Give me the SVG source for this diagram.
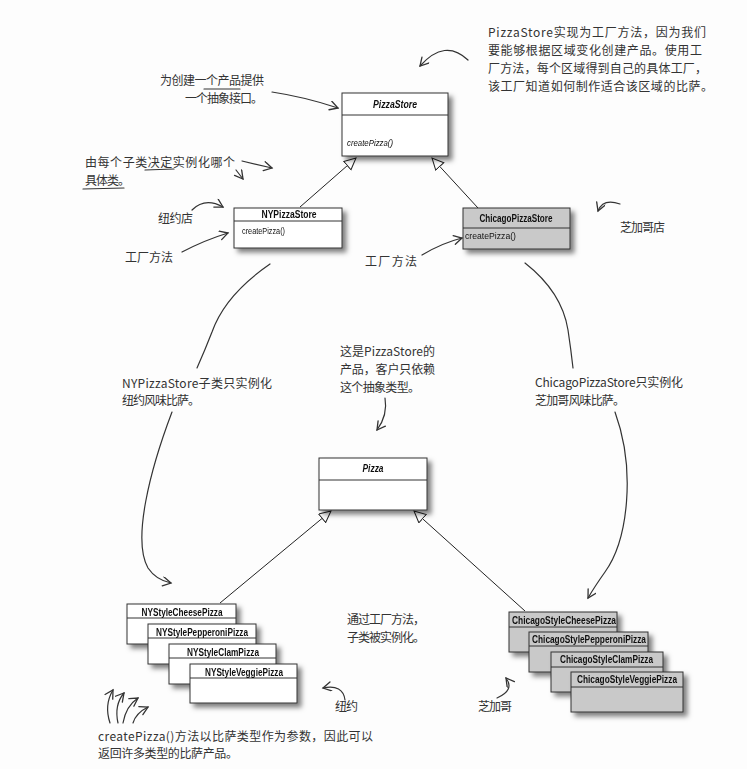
<svg xmlns="http://www.w3.org/2000/svg" width="747" height="769" viewBox="0 0 747 769">
<defs>
<filter id="sh" x="-10%" y="-10%" width="130%" height="150%">
<feDropShadow dx="4" dy="4" stdDeviation="2.5" flood-color="#000" flood-opacity="0.5"/>
</filter>
<marker id="tri" markerWidth="14" markerHeight="14" refX="12" refY="6" orient="auto" markerUnits="userSpaceOnUse">
<path d="M0.5,0.5 L12,6 L0.5,11.5 Z" fill="#fff" stroke="#222" stroke-width="1"/>
</marker>
<marker id="ah" markerWidth="12" markerHeight="12" refX="9" refY="5" orient="auto" markerUnits="userSpaceOnUse">
<path d="M1,0.5 L9,5 L1,9.5" fill="none" stroke="#333" stroke-width="1.3" stroke-linecap="round"/>
</marker>
</defs>
<style>
.box{fill:#fff;stroke:#333;stroke-width:1}
.gbox{fill:#c9c9c9;stroke:#333;stroke-width:1}
.dv{stroke:#333;stroke-width:1}
.t{font-family:"Liberation Sans",Arial,sans-serif;font-size:10px;font-weight:bold;fill:#111}
.ti{font-family:"Liberation Sans",Arial,sans-serif;font-size:10px;font-weight:bold;font-style:italic;fill:#111}
.m{font-family:"Liberation Sans",Arial,sans-serif;font-size:9px;fill:#111}
.mi{font-family:"Liberation Sans",Arial,sans-serif;font-size:9px;font-style:italic;fill:#111}
.n{font-family:"Noto Sans CJK SC","Noto Sans",sans-serif;font-size:12px;fill:#333}
.c{fill:none;stroke:#222;stroke-width:1}
.h{fill:none;stroke:#333;stroke-width:1.2;stroke-linecap:round}
</style>
<rect width="747" height="769" fill="#fdfdfd"/>

<g id="connectors">
<line class="c" x1="300" y1="207" x2="356" y2="158" marker-end="url(#tri)"/>
<line class="c" x1="478" y1="208" x2="432" y2="158" marker-end="url(#tri)"/>
<line class="c" x1="220" y1="603" x2="331" y2="511" marker-end="url(#tri)"/>
<line class="c" x1="525" y1="611" x2="414" y2="511" marker-end="url(#tri)"/>
</g>

<g id="PizzaStore" filter="url(#sh)">
<rect class="box" x="342" y="93" width="106" height="63"/>
<line class="dv" x1="342" y1="115" x2="448" y2="115"/>
<text class="ti" x="395" y="108" text-anchor="middle" textLength="44" lengthAdjust="spacingAndGlyphs">PizzaStore</text>
<text class="mi" x="347" y="146" textLength="46" lengthAdjust="spacingAndGlyphs">createPizza()</text>
</g>

<g id="NYPizzaStore" filter="url(#sh)">
<rect class="box" x="234" y="208" width="108" height="40"/>
<line class="dv" x1="234" y1="221" x2="342" y2="221"/>
<text class="t" x="289" y="218" text-anchor="middle" textLength="55" lengthAdjust="spacingAndGlyphs">NYPizzaStore</text>
<text class="m" x="242" y="234" textLength="43" lengthAdjust="spacingAndGlyphs">createPizza()</text>
</g>

<g id="ChicagoPizzaStore" filter="url(#sh)">
<rect class="gbox" x="463" y="208" width="107" height="41"/>
<line class="dv" x1="463" y1="228" x2="570" y2="228"/>
<text class="t" x="516" y="222" text-anchor="middle" textLength="73" lengthAdjust="spacingAndGlyphs">ChicagoPizzaStore</text>
<text class="m" x="465" y="239" textLength="51" lengthAdjust="spacingAndGlyphs">createPizza()</text>
</g>

<g id="Pizza" filter="url(#sh)">
<rect class="box" x="319" y="458" width="108" height="52"/>
<line class="dv" x1="319" y1="480" x2="427" y2="480"/>
<text class="ti" x="373" y="472" text-anchor="middle" textLength="21" lengthAdjust="spacingAndGlyphs">Pizza</text>
</g>

<g id="NYStyleCheesePizza" filter="url(#sh)">
<rect class="box" x="127" y="604" width="109" height="40"/>
<line class="dv" x1="127" y1="618" x2="236" y2="618"/>
<text class="t" x="182" y="616" text-anchor="middle" textLength="81" lengthAdjust="spacingAndGlyphs">NYStyleCheesePizza</text>
</g>
<g id="NYStylePepperoniPizza" filter="url(#sh)">
<rect class="box" x="148" y="624" width="108" height="40"/>
<line class="dv" x1="148" y1="638" x2="256" y2="638"/>
<text class="t" x="202" y="636" text-anchor="middle" textLength="92" lengthAdjust="spacingAndGlyphs">NYStylePepperoniPizza</text>
</g>
<g id="NYStyleClamPizza" filter="url(#sh)">
<rect class="box" x="169" y="644" width="107" height="40"/>
<line class="dv" x1="169" y1="658" x2="276" y2="658"/>
<text class="t" x="223" y="656" text-anchor="middle" textLength="72" lengthAdjust="spacingAndGlyphs">NYStyleClamPizza</text>
</g>
<g id="NYStyleVeggiePizza" filter="url(#sh)">
<rect class="box" x="190" y="664" width="107" height="39"/>
<line class="dv" x1="190" y1="678" x2="297" y2="678"/>
<text class="t" x="244" y="676" text-anchor="middle" textLength="78" lengthAdjust="spacingAndGlyphs">NYStyleVeggiePizza</text>
</g>

<g id="ChicagoStyleCheesePizza" filter="url(#sh)">
<rect class="gbox" x="509" y="612" width="108" height="40"/>
<line class="dv" x1="509" y1="627" x2="617" y2="627"/>
<text class="t" x="512" y="624" textLength="104" lengthAdjust="spacingAndGlyphs">ChicagoStyleCheesePizza</text>
</g>
<g id="ChicagoStylePepperoniPizza" filter="url(#sh)">
<rect class="gbox" x="529" y="632" width="119" height="40"/>
<line class="dv" x1="529" y1="646" x2="648" y2="646"/>
<text class="t" x="532" y="643" textLength="114" lengthAdjust="spacingAndGlyphs">ChicagoStylePepperoniPizza</text>
</g>
<g id="ChicagoStyleClamPizza" filter="url(#sh)">
<rect class="gbox" x="551" y="652" width="112" height="40"/>
<line class="dv" x1="551" y1="667" x2="663" y2="667"/>
<text class="t" x="560" y="663" textLength="93" lengthAdjust="spacingAndGlyphs">ChicagoStyleClamPizza</text>
</g>
<g id="ChicagoStyleVeggiePizza" filter="url(#sh)">
<rect class="gbox" x="571" y="672" width="112" height="40"/>
<line class="dv" x1="571" y1="687" x2="683" y2="687"/>
<text class="t" x="577" y="683" textLength="100" lengthAdjust="spacingAndGlyphs">ChicagoStyleVeggiePizza</text>
</g>

<g id="notes">
<text class="n" x="488" y="37" textLength="218" lengthAdjust="spacing">PizzaStore实现为工厂方法，因为我们</text>
<text class="n" x="488" y="55" textLength="214" lengthAdjust="spacing">要能够根据区域变化创建产品。使用工</text>
<text class="n" x="488" y="73" textLength="219" lengthAdjust="spacing">厂方法，每个区域得到自己的具体工厂，</text>
<text class="n" x="488" y="91" textLength="225" lengthAdjust="spacing">该工厂知道如何制作适合该区域的比萨。</text>
<path class="h" d="M468,60 Q445,38 420,66" marker-end="url(#ah)"/>

<text class="n" x="160" y="85" textLength="104" lengthAdjust="spacing">为创建一个产品提供</text>
<text class="n" x="185" y="103" textLength="78" lengthAdjust="spacing">一个抽象接口。</text>
<path class="h" d="M204,89 L240,89"/>
<path class="h" d="M272,92 Q305,97 338,108" marker-end="url(#ah)"/>

<text class="n" x="85" y="167" textLength="150" lengthAdjust="spacing">由每个子类决定实例化哪个</text>
<text class="n" x="85" y="185" textLength="45" lengthAdjust="spacing">具体类。</text>
<path class="h" d="M145,170 L174,169"/>
<path class="h" d="M83,189 L124,188"/>
<path class="h" d="M242,161 L272,168" marker-end="url(#ah)"/>
<path class="h" d="M236,170 L243,179" marker-end="url(#ah)"/>

<text class="n" x="158" y="223" textLength="35" lengthAdjust="spacing">纽约店</text>
<path class="h" d="M192,210 Q205,197 223,207" marker-end="url(#ah)"/>
<text class="n" x="125" y="262" textLength="48" lengthAdjust="spacing">工厂方法</text>
<path class="h" d="M182,252 Q205,240 228,233" marker-end="url(#ah)"/>

<text class="n" x="365" y="266" textLength="52" lengthAdjust="spacing">工厂方法</text>
<path class="h" d="M422,255 Q442,243 462,238" marker-end="url(#ah)"/>
<text class="n" x="620" y="232" textLength="45" lengthAdjust="spacing">芝加哥店</text>
<path class="h" d="M620,204 Q603,198 598,211" marker-end="url(#ah)"/>

<text class="n" x="340" y="356" textLength="95" lengthAdjust="spacing">这是PizzaStore的</text>
<text class="n" x="340" y="374" textLength="95" lengthAdjust="spacing">产品，客户只依赖</text>
<text class="n" x="340" y="392" textLength="80" lengthAdjust="spacing">这个抽象类型。</text>
<path class="h" d="M385,398 Q388,415 377,430" marker-end="url(#ah)"/>

<text class="n" x="122" y="388" textLength="150" lengthAdjust="spacing">NYPizzaStore子类只实例化</text>
<text class="n" x="122" y="405" textLength="78" lengthAdjust="spacing">纽约风味比萨。</text>
<path class="h" d="M270,264 Q225,295 212,332 Q205,350 197,368"/>
<path class="h" d="M172,412 C150,470 132,540 148,568 Q156,580 171,583" marker-end="url(#ah)"/>

<text class="n" x="535" y="387" textLength="148" lengthAdjust="spacing">ChicagoPizzaStore只实例化</text>
<text class="n" x="535" y="405" textLength="90" lengthAdjust="spacing">芝加哥风味比萨。</text>
<path class="h" d="M525,263 Q562,292 568,330 Q571,350 573,368"/>
<path class="h" d="M615,412 C636,470 628,540 605,572 Q595,586 588,598" marker-end="url(#ah)"/>

<text class="n" x="347" y="624" textLength="78" lengthAdjust="spacing">通过工厂方法，</text>
<text class="n" x="347" y="642" textLength="78" lengthAdjust="spacing">子类被实例化。</text>

<text class="n" x="335" y="711" textLength="23" lengthAdjust="spacing">纽约</text>
<path class="h" d="M345,700 Q343,684 323,688" marker-end="url(#ah)"/>
<text class="n" x="478" y="711" textLength="34" lengthAdjust="spacing">芝加哥</text>
<path class="h" d="M497,698 Q515,690 506,678" marker-end="url(#ah)"/>

<path class="h" d="M110,723 Q104,705 113,690" marker-end="url(#ah)"/>
<path class="h" d="M118,723 Q114,705 124,693" marker-end="url(#ah)"/>
<path class="h" d="M123,723 Q126,706 138,698" marker-end="url(#ah)"/>
<path class="h" d="M133,723 Q136,713 148,707" marker-end="url(#ah)"/>
<text class="n" x="98" y="741" textLength="275" lengthAdjust="spacing">createPizza()方法以比萨类型作为参数，因此可以</text>
<text class="n" x="98" y="758" textLength="140" lengthAdjust="spacing">返回许多类型的比萨产品。</text>
</g>
</svg>
